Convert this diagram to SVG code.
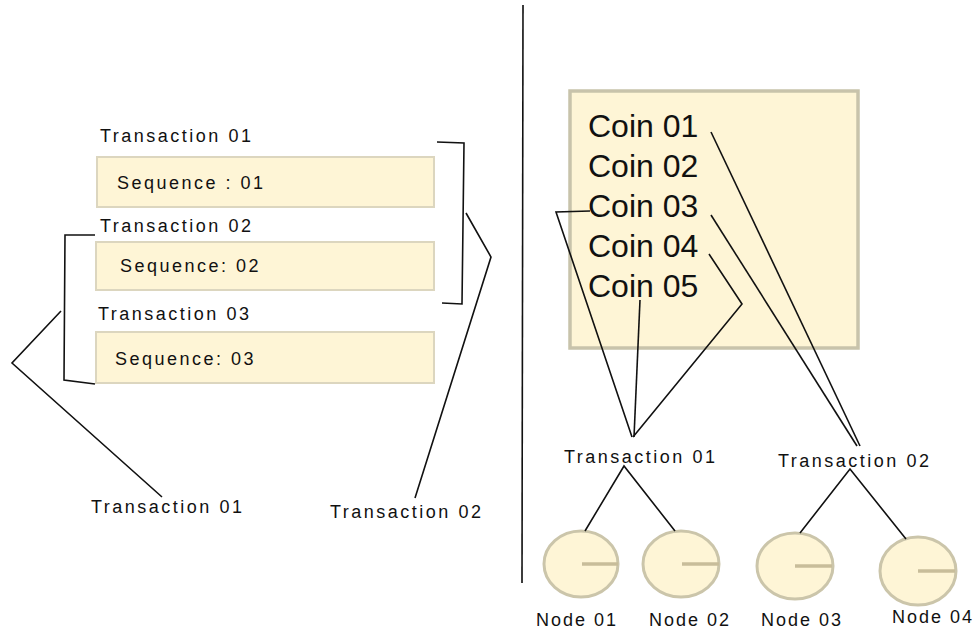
<svg xmlns="http://www.w3.org/2000/svg" width="974" height="632" viewBox="0 0 974 632">
<style>
.lbl{font-family:"Liberation Sans",Arial,sans-serif;font-size:18px;letter-spacing:2.5px;fill:#111}
.nl{font-family:"Liberation Sans",Arial,sans-serif;font-size:18px;letter-spacing:2px;fill:#111}
.coin{font-family:"Liberation Sans",Arial,sans-serif;font-size:32px;fill:#111}
.box{fill:#fef5d6;stroke:#dcd6bf;stroke-width:2}
.big{fill:#fef5d6;stroke:#c8c3ab;stroke-width:3.5}
.node{fill:#fef5d6;stroke:#cbc5aa;stroke-width:3}
.hand{stroke:#c8bd9a;stroke-width:3.5}
.ln{fill:none;stroke:#111;stroke-width:1.6}
</style>
<rect width="974" height="632" fill="#fff"/>
<g id="seq1"><rect class="box" x="97" y="157" width="337" height="50"/><text class="lbl" x="117" y="189">Sequence : 01</text></g>
<g id="seq2"><rect class="box" x="96" y="242" width="338" height="48"/><text class="lbl" x="120" y="272">Sequence: 02</text></g>
<g id="seq3"><rect class="box" x="96" y="332" width="338" height="51"/><text class="lbl" x="115" y="365">Sequence: 03</text></g>
<g id="labels-left">
<text class="lbl" x="100" y="142">Transaction 01</text>
<text class="lbl" x="100" y="232">Transaction 02</text>
<text class="lbl" x="98" y="320">Transaction 03</text>
<text class="lbl" x="91" y="513">Transaction 01</text>
<text class="lbl" x="330" y="518">Transaction 02</text>
</g>
<g id="coins">
<rect class="big" x="570" y="91" width="288" height="257"/>
<text class="coin" x="588" y="137">Coin 01</text>
<text class="coin" x="588" y="177">Coin 02</text>
<text class="coin" x="588" y="217">Coin 03</text>
<text class="coin" x="588" y="257">Coin 04</text>
<text class="coin" x="588" y="297">Coin 05</text>
</g>
<g id="tx-right">
<text class="lbl" x="564" y="463">Transaction 01</text>
<text class="lbl" x="778" y="467">Transaction 02</text>
</g>
<g id="node01"><ellipse class="node" cx="581" cy="564" rx="37" ry="33"/><line class="hand" x1="582" y1="564" x2="618" y2="564"/><text class="nl" x="536" y="626">Node 01</text></g>
<g id="node02"><ellipse class="node" cx="681" cy="564" rx="38" ry="33"/><line class="hand" x1="682" y1="564" x2="719" y2="564"/><text class="nl" x="649" y="626">Node 02</text></g>
<g id="node03"><ellipse class="node" cx="795" cy="566" rx="38" ry="33"/><line class="hand" x1="795" y1="566" x2="832" y2="566"/><text class="nl" x="761" y="626">Node 03</text></g>
<g id="node04"><ellipse class="node" cx="918" cy="571" rx="38" ry="34"/><line class="hand" x1="918" y1="571" x2="955" y2="571"/><text class="nl" x="892" y="623">Node 04</text></g>
<g id="connectors">
<line class="ln" x1="523" y1="5" x2="522" y2="583"/>
<polyline class="ln" points="95,235 65,235 64,380 95,384"/>
<polyline class="ln" points="61,311 12,363 162,497"/>
<polyline class="ln" points="437,142 464,143 462,304 442,303"/>
<polyline class="ln" points="466,213 491,257 415,498"/>
<line class="ln" x1="711" y1="132" x2="860" y2="446"/>
<line class="ln" x1="711" y1="215" x2="857" y2="446"/>
<polyline class="ln" points="709,254 742,304 633,437"/>
<line class="ln" x1="640" y1="300" x2="634" y2="437"/>
<polyline class="ln" points="590,211 556,212 632,437"/>
<polyline class="ln" points="585,531 624,466 675,531"/>
<polyline class="ln" points="800,533 850,469 906,539"/>
</g>
</svg>
